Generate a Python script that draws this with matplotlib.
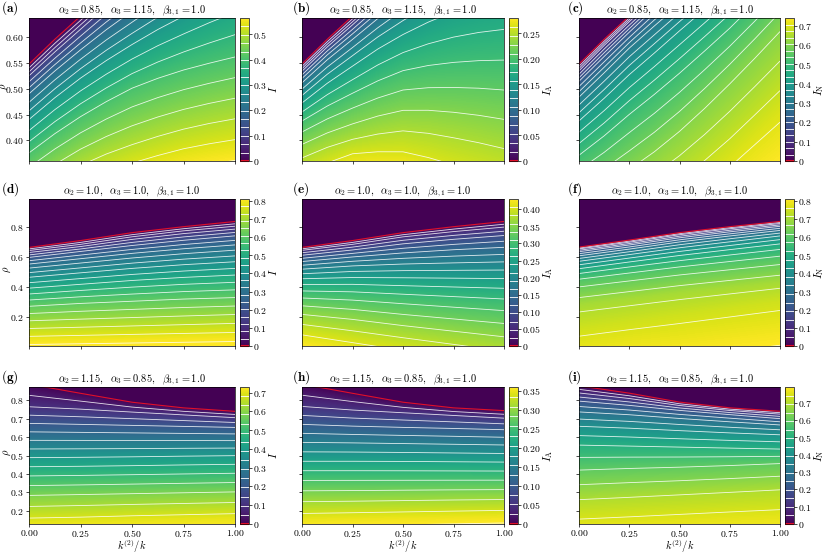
import numpy as np
import matplotlib
matplotlib.use("Agg")
import matplotlib.pyplot as plt
from matplotlib.colors import Normalize
from matplotlib.cm import ScalarMappable

plt.rcParams['mathtext.fontset'] = 'cm'
plt.rcParams['font.family'] = 'serif'

# ---------------- data ----------------
x_cols_fine = [0.0, 0.125, 0.25, 0.375, 0.5, 0.625, 0.75, 0.875, 1.0]
x_cols = [0.0, 0.25, 0.5, 0.75, 1.0]          # k^(2)/k columns

# each panel: field levels and, per level, rho position at each x column
a_levels = [0.0, 0.1, 0.2, 0.3, 0.4, 0.5, 0.57]
a_rho = [[0.548, 0.596, 0.641, 0.687, 0.730, 0.771, 0.810, 0.851, 0.890],
         [0.525, 0.571, 0.615, 0.659, 0.700, 0.741, 0.780, 0.816, 0.850],
         [0.490, 0.534, 0.575, 0.614, 0.650, 0.686, 0.720, 0.751, 0.780],
         [0.440, 0.482, 0.520, 0.554, 0.585, 0.614, 0.640, 0.666, 0.690],
         [0.375, 0.412, 0.445, 0.474, 0.500, 0.519, 0.535, 0.548, 0.560],
         [0.290, 0.322, 0.350, 0.372, 0.390, 0.406, 0.420, 0.431, 0.440],
         [0.220, 0.252, 0.280, 0.299, 0.315, 0.328, 0.340, 0.348, 0.355]]

b_levels = [0.0, 0.05, 0.1, 0.15, 0.2, 0.24, 0.265, 0.29]
b_rho = [[0.548, 0.596, 0.641, 0.687, 0.730, 0.771, 0.810, 0.851, 0.890],
         [0.535, 0.582, 0.625, 0.669, 0.710, 0.751, 0.790, 0.826, 0.860],
         [0.515, 0.560, 0.600, 0.641, 0.680, 0.716, 0.750, 0.786, 0.820],
         [0.480, 0.520, 0.555, 0.590, 0.620, 0.647, 0.670, 0.687, 0.700],
         [0.430, 0.457, 0.480, 0.502, 0.520, 0.527, 0.530, 0.531, 0.530],
         [0.375, 0.395, 0.410, 0.422, 0.430, 0.427, 0.420, 0.411, 0.400],
         [0.330, 0.352, 0.370, 0.373, 0.372, 0.360, 0.345, 0.333, 0.320],
         [0.260, 0.295, 0.320, 0.328, 0.330, 0.312, 0.290, 0.275, 0.260]]

c_levels = [0.0, 0.1, 0.2, 0.3, 0.4, 0.5, 0.6, 0.7, 0.76]
c_rho = [[0.548, 0.596, 0.641, 0.687, 0.730, 0.771, 0.810, 0.851, 0.890],
         [0.535, 0.584, 0.630, 0.676, 0.720, 0.761, 0.800, 0.841, 0.880],
         [0.515, 0.563, 0.610, 0.656, 0.700, 0.741, 0.780, 0.821, 0.860],
         [0.485, 0.532, 0.580, 0.623, 0.665, 0.703, 0.740, 0.786, 0.830],
         [0.440, 0.484, 0.530, 0.572, 0.615, 0.657, 0.700, 0.745, 0.790],
         [0.375, 0.413, 0.455, 0.494, 0.535, 0.578, 0.622, 0.670, 0.720],
         [0.290, 0.318, 0.350, 0.385, 0.425, 0.470, 0.518, 0.568, 0.620],
         [0.190, 0.208, 0.230, 0.255, 0.285, 0.320, 0.360, 0.405, 0.450],
         [0.120, 0.134, 0.150, 0.170, 0.195, 0.222, 0.250, 0.280, 0.310]]

d_levels = [0.0, 0.1, 0.2, 0.3, 0.4, 0.5, 0.6, 0.7, 0.8, 0.84]
d_rho = [[0.666, 0.712, 0.765, 0.805, 0.840],
         [0.640, 0.680, 0.730, 0.770, 0.800],
         [0.600, 0.640, 0.680, 0.715, 0.745],
         [0.545, 0.580, 0.615, 0.645, 0.670],
         [0.470, 0.500, 0.530, 0.555, 0.575],
         [0.380, 0.405, 0.430, 0.450, 0.465],
         [0.280, 0.300, 0.315, 0.330, 0.340],
         [0.160, 0.170, 0.180, 0.190, 0.200],
         [0.030, 0.035, 0.040, 0.045, 0.050],
         [-0.030, -0.025, -0.020, -0.015, -0.010]]

e_levels = [0.0, 0.05, 0.1, 0.15, 0.2, 0.25, 0.3, 0.35, 0.4, 0.43]
e_rho = [[0.666, 0.712, 0.765, 0.805, 0.840],
         [0.645, 0.685, 0.735, 0.770, 0.800],
         [0.610, 0.645, 0.685, 0.715, 0.740],
         [0.565, 0.595, 0.620, 0.640, 0.655],
         [0.510, 0.530, 0.540, 0.545, 0.550],
         [0.440, 0.445, 0.440, 0.435, 0.430],
         [0.350, 0.340, 0.320, 0.300, 0.280],
         [0.240, 0.210, 0.170, 0.135, 0.100],
         [0.100, 0.050, 0.000, -0.050, -0.100],
         [0.000, -0.060, -0.120, -0.180, -0.250]]

f_levels = [0.0, 0.1, 0.2, 0.3, 0.4, 0.5, 0.6, 0.7, 0.75, 0.8, 0.82]
f_rho = [[0.668, 0.715, 0.765, 0.805, 0.840],
         [0.655, 0.700, 0.750, 0.790, 0.825],
         [0.635, 0.680, 0.728, 0.768, 0.805],
         [0.605, 0.650, 0.698, 0.738, 0.775],
         [0.565, 0.610, 0.655, 0.695, 0.735],
         [0.510, 0.555, 0.598, 0.637, 0.675],
         [0.430, 0.470, 0.510, 0.545, 0.580],
         [0.280, 0.320, 0.360, 0.395, 0.430],
         [0.120, 0.165, 0.210, 0.255, 0.300],
         [-0.080, -0.040, -0.010, 0.030, 0.070],
         [-0.200, -0.160, -0.120, -0.090, -0.050]]

g_levels = [0.0, 0.1, 0.2, 0.3, 0.4, 0.5, 0.6, 0.7, 0.74]
g_rho = [[0.890, 0.840, 0.791, 0.760, 0.741],
         [0.762, 0.750, 0.735, 0.720, 0.705],
         [0.670, 0.665, 0.660, 0.655, 0.650],
         [0.575, 0.575, 0.575, 0.575, 0.575],
         [0.478, 0.480, 0.483, 0.487, 0.490],
         [0.375, 0.378, 0.382, 0.386, 0.390],
         [0.265, 0.270, 0.275, 0.280, 0.285],
         [0.135, 0.140, 0.148, 0.154, 0.160],
         [0.070, 0.075, 0.080, 0.085, 0.090]]

h_levels = [0.0, 0.05, 0.1, 0.15, 0.2, 0.25, 0.3, 0.35, 0.37]
h_rho = [[0.890, 0.840, 0.791, 0.760, 0.745],
         [0.770, 0.750, 0.735, 0.720, 0.705],
         [0.675, 0.665, 0.658, 0.652, 0.645],
         [0.580, 0.577, 0.573, 0.569, 0.565],
         [0.480, 0.480, 0.479, 0.477, 0.475],
         [0.380, 0.380, 0.380, 0.380, 0.380],
         [0.270, 0.272, 0.275, 0.278, 0.280],
         [0.145, 0.150, 0.155, 0.160, 0.165],
         [0.080, 0.085, 0.090, 0.095, 0.100]]

i_levels = [0.0, 0.1, 0.2, 0.3, 0.4, 0.5, 0.6, 0.7, 0.76, 0.8]
i_rho = [[0.880, 0.840, 0.791, 0.760, 0.741],
         [0.840, 0.810, 0.772, 0.745, 0.725],
         [0.795, 0.772, 0.745, 0.722, 0.700],
         [0.735, 0.720, 0.700, 0.682, 0.665],
         [0.655, 0.645, 0.632, 0.620, 0.610],
         [0.550, 0.545, 0.540, 0.535, 0.530],
         [0.410, 0.420, 0.428, 0.438, 0.450],
         [0.245, 0.258, 0.272, 0.286, 0.300],
         [0.110, 0.122, 0.135, 0.148, 0.160],
         [-0.040, -0.030, -0.010, 0.005, 0.020]]

# colour-bar maxima and number of contour intervals
vmax_list = [0.565, 0.28, 0.74, 0.81, 0.43, 0.81, 0.73, 0.36, 0.79]
n_lines = [17, 16, 22, 20, 18, 17, 15, 14, 16]

# texts
titles_row = [r'$\alpha_2 = 0.85,\ \ \alpha_3 = 1.15,\ \ \beta_{3,1} = 1.0$',
              r'$\alpha_2 = 1.0,\ \ \alpha_3 = 1.0,\ \ \beta_{3,1} = 1.0$',
              r'$\alpha_2 = 1.15,\ \ \alpha_3 = 0.85,\ \ \beta_{3,1} = 1.0$']
panel_tags = ['a', 'b', 'c', 'd', 'e', 'f', 'g', 'h', 'i']
cbar_labels = [r'$I$', r'$I_{\mathrm{A}}$', r'$I_{\mathrm{N}}$']
cbar_ticks = [
    [0, 0.1, 0.2, 0.3, 0.4, 0.5],
    [0, 0.05, 0.10, 0.15, 0.20, 0.25],
    [0, 0.1, 0.2, 0.3, 0.4, 0.5, 0.6, 0.7],
    [0, 0.1, 0.2, 0.3, 0.4, 0.5, 0.6, 0.7, 0.8],
    [0, 0.05, 0.10, 0.15, 0.20, 0.25, 0.30, 0.35, 0.40],
    [0, 0.1, 0.2, 0.3, 0.4, 0.5, 0.6, 0.7, 0.8],
    [0, 0.1, 0.2, 0.3, 0.4, 0.5, 0.6, 0.7],
    [0, 0.05, 0.10, 0.15, 0.20, 0.25, 0.30, 0.35],
    [0, 0.1, 0.2, 0.3, 0.4, 0.5, 0.6, 0.7],
]
cbar_fmt = ['%.1f', '%.2f', '%.1f', '%.1f', '%.2f', '%.1f', '%.1f', '%.2f', '%.1f']
row_ylims = [(0.36, 0.637), (0.005, 0.99), (0.127, 0.873)]
row_yticks = [[0.40, 0.45, 0.50, 0.55, 0.60], [0.2, 0.4, 0.6, 0.8],
              [0.2, 0.3, 0.4, 0.5, 0.6, 0.7, 0.8]]
row_yfmt = ['%.2f', '%.1f', '%.1f']
x_ticks = [0.0, 0.25, 0.5, 0.75, 1.0]

fields = [(x_cols_fine, a_levels, a_rho), (x_cols_fine, b_levels, b_rho),
          (x_cols_fine, c_levels, c_rho),
          (x_cols, d_levels, d_rho), (x_cols, e_levels, e_rho),
          (x_cols, f_levels, f_rho),
          (x_cols, g_levels, g_rho), (x_cols, h_levels, h_rho),
          (x_cols, i_levels, i_rho)]

# ---------------- layout ----------------
W, H = 830, 556
fig = plt.figure(figsize=(W / 100, H / 100), dpi=100)

col_left = [29, 302, 579]
col_w = [206, 202, 201]
row_top = [18, 199, 387]
row_h = [143, 147, 137]
tag_dx = [-28, -10, -12]
cbar_label_dx = [24, 30, 25]
rho_label_dx = [-25, -22, -22]


def frac(l, t, w, h):
    return [l / W, 1 - (t + h) / H, w / W, h / H]


cmap = plt.get_cmap('viridis')
red = '#e0102a'

for k in range(9):
    r, c = divmod(k, 3)
    ax = fig.add_axes(frac(col_left[c], row_top[r], col_w[c], row_h[r]))
    cax = fig.add_axes(frac(col_left[c] + col_w[c] + 5, row_top[r], 9, row_h[r]))

    xc, levels, rho = fields[k]
    vmax = vmax_list[k]
    ncol = len(xc)
    X = np.tile(np.array(xc), (len(levels) + 1, 1))
    Y = np.vstack([np.full(ncol, 5.0), np.array(rho)])
    Z = np.vstack([np.zeros(ncol),
                   np.repeat(np.array(levels)[:, None], ncol, axis=1)])

    ax.contourf(X, Y, Z, levels=np.linspace(0, vmax, 256), cmap=cmap,
                extend='max', antialiased=False)
    line_lv = np.linspace(0, vmax, n_lines[k] + 1)[1:]
    ax.contour(X, Y, Z, levels=line_lv, colors='white', linewidths=0.6,
               alpha=0.85)
    ax.contour(X, Y, Z, levels=[vmax * 0.002], colors=red, linewidths=0.8)

    ax.set_xlim(0, 1)
    ax.set_ylim(*row_ylims[r])
    ax.set_xticks(x_ticks)
    ax.set_yticks(row_yticks[r])
    ax.tick_params(labelsize=7, length=2.5, width=0.5, pad=1.2)
    ax.tick_params(axis='x', pad=0.6)
    if r == 2:
        ax.set_xticklabels(['$%.2f$' % v for v in x_ticks])
        ax.set_xlabel(r'$k^{(2)}/k$', fontsize=7.5, labelpad=-1)
    else:
        ax.set_xticklabels([])
    if c == 0:
        ax.set_yticklabels(['$' + (row_yfmt[r] % v) + '$' for v in row_yticks[r]])
        ax.text(rho_label_dx[r] / col_w[c], 0.52, r'$\rho$', rotation=90,
                transform=ax.transAxes, fontsize=7.5, ha='center', va='center')
    else:
        ax.set_yticklabels([])
    for s in ax.spines.values():
        s.set_linewidth(0.5)

    ax.set_title(titles_row[r], fontsize=7.5, pad=3)
    ax.text(tag_dx[c] / col_w[c], 1 + 10 / row_h[r],
            r'$\mathbf{(%s)}$' % panel_tags[k], transform=ax.transAxes,
            fontsize=9.5, ha='left', va='center')

    sm = ScalarMappable(norm=Normalize(0, vmax), cmap=cmap)
    cb = fig.colorbar(sm, cax=cax)
    cb.add_lines(line_lv, colors=['white'] * len(line_lv),
                 linewidths=[0.6] * len(line_lv))
    cb.add_lines([0.0], colors=[red], linewidths=[1.5], erase=False)
    tks = cbar_ticks[k]
    cb.set_ticks(tks)
    cb.set_ticklabels(['$0$' if v == 0 else '$' + (cbar_fmt[k] % v) + '$'
                       for v in tks])
    cb.ax.tick_params(labelsize=7, length=2, width=0.5, pad=1)
    cb.outline.set_linewidth(0.5)
    cax.text(1 + cbar_label_dx[c] / 9, 0.5, cbar_labels[c],
             transform=cax.transAxes, rotation=90, fontsize=8,
             ha='center', va='center')

fig.savefig('out.png', dpi=100)
